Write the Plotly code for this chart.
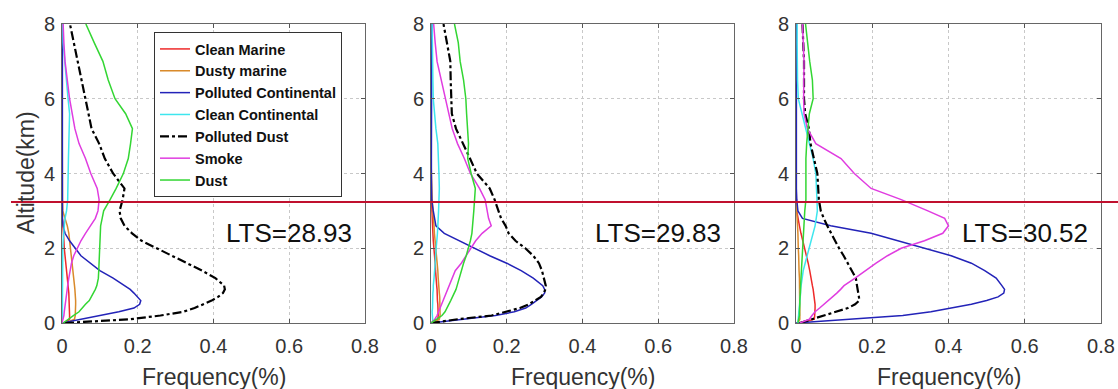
import plotly.graph_objects as go

# Altitude grid (km)
ALT = [0, 0.1, 0.2, 0.3, 0.4, 0.5, 0.6, 0.7, 0.8, 0.9, 1.0,
       1.2, 1.4, 1.6, 1.8, 2.0, 2.2, 2.4, 2.6, 2.8, 3.0,
       3.3, 3.6, 4.0, 4.4, 4.8, 5.2, 5.6, 6.0, 6.5, 7.0, 7.5, 8.0]

SERIES = ["Clean Marine", "Dusty marine", "Polluted Continental", "Clean Continental",
          "Polluted Dust", "Smoke", "Dust"]
LTS_LABELS = ["LTS=28.93", "LTS=29.83", "LTS=30.52"]
X_TICKS = [0, 0.2, 0.4, 0.6, 0.8]
Y_TICKS = [0, 2, 4, 6, 8]

# ---- Panel 1 (LTS=28.93) ----
p1_clean_marine = [0.005, 0.020, 0.020, 0.020, 0.020, 0.020, 0.019, 0.019, 0.018, 0.017, 0.016,
                   0.013, 0.012, 0.010, 0.008, 0.006, 0.005, 0.003, 0.002, 0.001, 0.001,
                   0.001, 0.0, 0, 0, 0, 0, 0, 0, 0, 0, 0, 0]
p1_dusty_marine = [0.010, 0.033, 0.035, 0.036, 0.036, 0.036, 0.036, 0.036, 0.035, 0.034, 0.033,
                   0.031, 0.030, 0.028, 0.026, 0.024, 0.021, 0.018, 0.014, 0.008, 0.002,
                   0.001, 0.001, 0.001, 0, 0, 0, 0, 0, 0, 0, 0, 0]
p1_polluted_cont = [0.0, 0.05, 0.11, 0.15, 0.19, 0.205, 0.208, 0.200, 0.190, 0.180, 0.165,
                    0.135, 0.100, 0.075, 0.050, 0.035, 0.020, 0.008, 0.003, 0.001, 0.001,
                    0.001, 0.001, 0.001, 0.001, 0.001, 0.001, 0.001, 0.001, 0.001, 0.001, 0.001, 0.001]
p1_clean_cont = [0.0, 0.001, 0.001, 0.001, 0.001, 0.001, 0.001, 0.001, 0.001, 0.001, 0.002,
                 0.002, 0.002, 0.002, 0.002, 0.002, 0.003, 0.004, 0.006, 0.008, 0.012,
                 0.015, 0.016, 0.017, 0.017, 0.018, 0.020, 0.020, 0.016, 0.012, 0.006, 0.003, 0.002]
p1_polluted_dust = [0.008, 0.18, 0.26, 0.32, 0.35, 0.375, 0.395, 0.412, 0.425, 0.430, 0.428,
                    0.405, 0.370, 0.330, 0.290, 0.250, 0.210, 0.185, 0.165, 0.155, 0.152,
                    0.160, 0.165, 0.135, 0.113, 0.098, 0.078, 0.070, 0.062, 0.050, 0.040, 0.030, 0.021]
p1_smoke = [0.0, 0.003, 0.005, 0.006, 0.007, 0.008, 0.009, 0.010, 0.012, 0.014, 0.015,
            0.018, 0.021, 0.025, 0.031, 0.040, 0.050, 0.062, 0.075, 0.088, 0.095,
            0.098, 0.093, 0.076, 0.062, 0.045, 0.034, 0.027, 0.020, 0.014, 0.008, 0.005, 0.003]
p1_dust = [0.003, 0.015, 0.030, 0.045, 0.053, 0.062, 0.072, 0.078, 0.083, 0.088, 0.092,
           0.096, 0.097, 0.098, 0.098, 0.099, 0.100, 0.101, 0.102, 0.106, 0.110,
           0.127, 0.143, 0.162, 0.175, 0.181, 0.186, 0.168, 0.140, 0.122, 0.108, 0.085, 0.063]

# ---- Panel 2 (LTS=29.83) ----
p2_clean_marine = [0.004, 0.018, 0.019, 0.019, 0.018, 0.018, 0.017, 0.017, 0.016, 0.016, 0.015,
                   0.013, 0.012, 0.011, 0.009, 0.008, 0.006, 0.005, 0.004, 0.003, 0.002,
                   0.001, 0.0, 0, 0, 0, 0, 0, 0, 0, 0, 0, 0]
p2_dusty_marine = [0.005, 0.022, 0.024, 0.024, 0.024, 0.024, 0.023, 0.023, 0.022, 0.021, 0.021,
                   0.019, 0.018, 0.016, 0.014, 0.012, 0.011, 0.009, 0.008, 0.006, 0.005,
                   0.003, 0.002, 0.001, 0, 0, 0, 0, 0, 0, 0, 0, 0]
p2_polluted_cont = [0.0, 0.09, 0.17, 0.22, 0.25, 0.265, 0.280, 0.292, 0.300, 0.300, 0.295,
                    0.270, 0.238, 0.200, 0.155, 0.115, 0.075, 0.035, 0.013, 0.009, 0.006,
                    0.002, 0.001, 0.001, 0.001, 0.001, 0.001, 0.001, 0.001, 0.001, 0.002, 0.002, 0.003]
p2_clean_cont = [0.005, 0.004, 0.003, 0.003, 0.004, 0.004, 0.004, 0.005, 0.005, 0.006, 0.006,
                 0.008, 0.010, 0.011, 0.012, 0.014, 0.015, 0.017, 0.018, 0.018, 0.020,
                 0.021, 0.022, 0.021, 0.020, 0.018, 0.013, 0.009, 0.006, 0.005, 0.004, 0.004, 0.003]
p2_polluted_dust = [0.0, 0.07, 0.16, 0.20, 0.235, 0.258, 0.275, 0.290, 0.298, 0.302, 0.303,
                    0.298, 0.293, 0.285, 0.270, 0.249, 0.223, 0.205, 0.197, 0.185, 0.179,
                    0.168, 0.155, 0.121, 0.103, 0.085, 0.066, 0.055, 0.053, 0.052, 0.051, 0.042, 0.033]
p2_smoke = [0.0, 0.010, 0.016, 0.020, 0.025, 0.029, 0.033, 0.037, 0.040, 0.044, 0.047,
            0.055, 0.064, 0.080, 0.092, 0.104, 0.118, 0.135, 0.159, 0.152, 0.148,
            0.143, 0.128, 0.104, 0.088, 0.070, 0.056, 0.047, 0.038, 0.028, 0.016, 0.011, 0.007]
p2_dust = [0.0, 0.015, 0.029, 0.037, 0.043, 0.047, 0.052, 0.057, 0.062, 0.066, 0.069,
           0.074, 0.079, 0.086, 0.093, 0.099, 0.104, 0.108, 0.110, 0.111, 0.113,
           0.115, 0.117, 0.106, 0.097, 0.099, 0.096, 0.094, 0.092, 0.086, 0.077, 0.072, 0.062]

# ---- Panel 3 (LTS=30.52) ----
p3_clean_marine = [0.010, 0.048, 0.049, 0.050, 0.050, 0.050, 0.049, 0.048, 0.046, 0.045, 0.043,
                   0.040, 0.036, 0.032, 0.027, 0.021, 0.017, 0.013, 0.009, 0.005, 0.002,
                   0.001, 0.0, 0, 0, 0, 0, 0, 0, 0, 0, 0, 0]
p3_dusty_marine = [0.005, 0.010, 0.010, 0.010, 0.010, 0.010, 0.010, 0.010, 0.009, 0.009, 0.009,
                   0.009, 0.008, 0.008, 0.007, 0.006, 0.006, 0.005, 0.004, 0.003, 0.001,
                   0.0, 0.0, 0, 0, 0, 0, 0, 0, 0, 0, 0, 0]
p3_polluted_cont = [0.0, 0.15, 0.28, 0.354, 0.41, 0.46, 0.50, 0.53, 0.545, 0.547, 0.540,
                    0.525, 0.495, 0.460, 0.407, 0.337, 0.267, 0.197, 0.091, 0.017, 0.005,
                    0.002, 0.001, 0.001, 0.001, 0.001, 0.001, 0.001, 0.001, 0.001, 0.001, 0.001, 0.001]
p3_clean_cont = [0.005, 0.006, 0.007, 0.008, 0.008, 0.009, 0.010, 0.011, 0.012, 0.012, 0.013,
                 0.016, 0.019, 0.024, 0.029, 0.034, 0.040, 0.046, 0.050, 0.053, 0.056,
                 0.055, 0.053, 0.052, 0.045, 0.035, 0.025, 0.015, 0.006, 0.004, 0.003, 0.003, 0.003]
p3_polluted_dust = [0.010, 0.040, 0.070, 0.100, 0.136, 0.155, 0.166, 0.165, 0.163, 0.162, 0.160,
                    0.157, 0.147, 0.136, 0.125, 0.113, 0.102, 0.092, 0.082, 0.073, 0.065,
                    0.060, 0.058, 0.056, 0.047, 0.038, 0.034, 0.024, 0.021, 0.021, 0.021, 0.019, 0.017]
p3_smoke = [0.010, 0.035, 0.042, 0.050, 0.062, 0.074, 0.085, 0.096, 0.107, 0.117, 0.126,
            0.155, 0.182, 0.210, 0.240, 0.276, 0.337, 0.385, 0.400, 0.390, 0.346,
            0.276, 0.197, 0.153, 0.118, 0.052, 0.030, 0.021, 0.020, 0.020, 0.021, 0.019, 0.017]
p3_dust = [0.005, 0.008, 0.009, 0.009, 0.010, 0.010, 0.010, 0.011, 0.011, 0.012, 0.012,
           0.013, 0.015, 0.016, 0.016, 0.017, 0.018, 0.019, 0.020, 0.021, 0.023,
           0.026, 0.026, 0.025, 0.026, 0.028, 0.032, 0.035, 0.045, 0.043, 0.036, 0.030, 0.025]

PANELS = [
    [p1_clean_marine, p1_dusty_marine, p1_polluted_cont, p1_clean_cont, p1_polluted_dust, p1_smoke, p1_dust],
    [p2_clean_marine, p2_dusty_marine, p2_polluted_cont, p2_clean_cont, p2_polluted_dust, p2_smoke, p2_dust],
    [p3_clean_marine, p3_dusty_marine, p3_polluted_cont, p3_clean_cont, p3_polluted_dust, p3_smoke, p3_dust],
]

COLORS = ["#ee2a2a", "#d98a2b", "#2323b8", "#3ee6ee", "#000000", "#e03ce0", "#33d633"]
DASHES = ["solid", "solid", "solid", "solid", "dashdot", "solid", "solid"]
WIDTHS = [1.5, 1.5, 1.5, 1.5, 2.2, 1.5, 1.5]

W, H = 1118, 389
x_dom_px = [(62, 365), (431, 734), (796, 1101)]
y_dom = [1 - 323 / H, 1 - 24 / H]

fig = go.Figure()
for p, vals in enumerate(PANELS):
    ax = "" if p == 0 else str(p + 1)
    for s, name in enumerate(SERIES):
        fig.add_trace(go.Scatter(
            x=vals[s], y=ALT, mode="lines", name=name,
            line=dict(color=COLORS[s], width=WIDTHS[s], dash=DASHES[s]),
            xaxis="x" + ax, yaxis="y" + ax,
            showlegend=(p == 0), legendgroup=name,
        ))

tickfont = dict(family="Liberation Sans, Arial, sans-serif", size=20, color="#333333")
layout = dict(
    width=W, height=H, margin=dict(l=0, r=0, t=0, b=0, pad=0, autoexpand=False),
    paper_bgcolor="white", plot_bgcolor="white",
    showlegend=True,
    legend=dict(
        x=154 / W, y=1 - 32 / H, xanchor="left", yanchor="top",
        bgcolor="white", bordercolor="#333333", borderwidth=1,
        font=dict(family="Liberation Sans, Arial, sans-serif", size=14.5, color="#111111", weight="bold"),
        tracegroupgap=0, itemwidth=30,
    ),
)
annotations = []
for p in range(3):
    ax = "" if p == 0 else str(p + 1)
    x0, x1 = x_dom_px[p]
    layout["xaxis" + ax] = dict(
        domain=[x0 / W, x1 / W], range=[0, 0.8], anchor="y" + ax, automargin=False,
        tickvals=X_TICKS, ticktext=[f"{v:g}" for v in X_TICKS],
        ticks="inside", ticklen=4, tickcolor="#555555",
        showline=True, mirror="ticks", linecolor="#666666", linewidth=1,
        showgrid=True, gridcolor="#c8c8c8", griddash="dot", gridwidth=1,
        zeroline=False, tickfont=tickfont, ticklabelstandoff=5,
    )
    layout["yaxis" + ax] = dict(
        domain=y_dom, range=[0, 8], anchor="x" + ax, automargin=False,
        tickvals=Y_TICKS,
        ticks="inside", ticklen=4, tickcolor="#555555",
        showline=True, mirror="ticks", linecolor="#666666", linewidth=1,
        showgrid=True, gridcolor="#c8c8c8", griddash="dot", gridwidth=1,
        zeroline=False, tickfont=tickfont, ticklabelstandoff=2,
    )
    annotations.append(dict(
        text=LTS_LABELS[p], x=0.6, y=2.4, xref="x" + ax, yref="y" + ax,
        xanchor="center", yanchor="middle", showarrow=False,
        font=dict(family="Liberation Sans, Arial, sans-serif", size=26, color="#111111"),
    ))
    annotations.append(dict(
        text="Frequency(%)", x=(x0 + x1) / 2 / W, y=1 - 377 / H, xref="paper", yref="paper",
        xanchor="center", yanchor="middle", showarrow=False,
        font=dict(family="Liberation Sans, Arial, sans-serif", size=23, color="#333333"),
    ))
annotations.append(dict(
    text="Altitude(km)", x=26 / W, y=1 - 173 / H, xref="paper", yref="paper",
    xanchor="center", yanchor="middle", textangle=-90, showarrow=False,
    font=dict(family="Liberation Sans, Arial, sans-serif", size=23, color="#333333"),
))
layout["annotations"] = annotations
layout["shapes"] = [dict(
    type="line", xref="paper", yref="paper", x0=11 / W, x1=1, y0=1 - 202 / H, y1=1 - 202 / H,
    line=dict(color="#c0102e", width=2), layer="above",
)]
fig.update_layout(**layout)
fig.write_html("out.html")
